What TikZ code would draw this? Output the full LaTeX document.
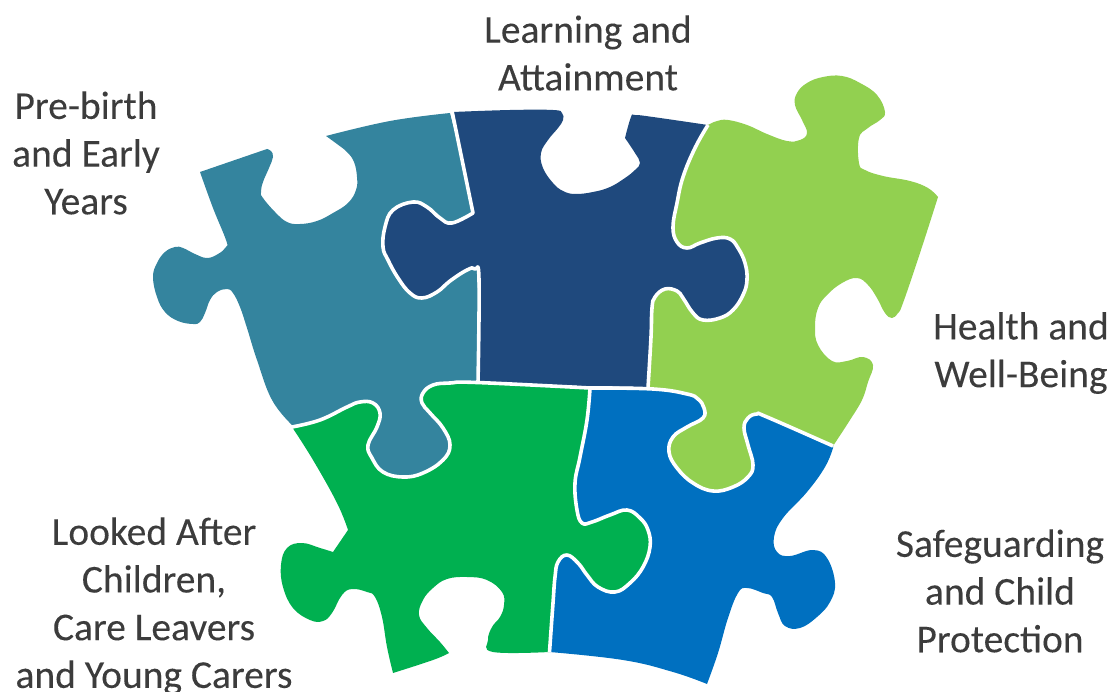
\documentclass[tikz,border=0pt]{standalone}
\usepackage{fontspec}
\setmainfont{Carlito}
\definecolor{teal}{HTML}{34849E}
\definecolor{navy}{HTML}{1F497D}
\definecolor{lime}{HTML}{92D050}
\definecolor{grass}{HTML}{00B050}
\definecolor{azure}{HTML}{0070C0}
\definecolor{ink}{HTML}{3C3C3C}
\newfontfamily\lblfont[FakeBold=0.12]{Carlito}
\tikzset{
 lbl/.style={font=\lblfont\fontsize{39.5}{47.7}\selectfont,text=ink,align=center,inner sep=0pt},
 seam/.style={draw=white,line width=3.6pt,line join=round},
 s/.style={smooth,tension=.7}
}
\begin{document}
\begin{tikzpicture}[x=1pt,y=-1pt]
\useasboundingbox (0,0) rectangle (1113,692);
% teal
\fill[teal] plot[s] coordinates {(450,113) (390,121) (326,136)}
 -- plot[s] coordinates {(326,136) (337,144) (347,152) (354,162) (357,177) (356,190) (348,203) (333,213) (317,221) (300,224) (287,222) (275,212) (263,198) (261,192) (263,182) (269,168) (273,157) (271,151) (267,149)}
 -- (200,172) -- plot[s] coordinates {(200,172) (213,208) (226,240) (226,247) (218,254) (207,258) (195,254) (183,248) (175,247) (165,252) (157,263) (153,277) (157,297) (165,312) (178,321) (193,324) (200,322) (205,313) (210,300) (217,292) (227,289) (233,293) (240,307) (247,328) (257,360) (272,400) (292,425)}
 -- (370,490) -- (430,490) -- (480,385) -- (476,213) -- cycle;
% navy
\fill[navy] plot[s] coordinates {(453,112) (510,110) (553,110) (562,113) (563,120) (558,128) (548,140) (541,153) (543,168) (553,183) (563,191) (575,194) (593,192) (610,187) (625,178) (635,170) (640,163) (635,153) (625,138)}
 -- plot[s] coordinates {(625,138) (631,117) (635,115) (653,117) (708,125)}
 -- plot[s] coordinates {(708,125) (695,148) (683,177) (677,203) (673,227) (677,242) (687,248) (700,243) (717,238) (730,239) (738,248) (745,263) (747,280) (743,295) (733,310) (720,318) (703,320) (693,313) (683,298) (677,291) (665,289) (655,297) (652,308) (651,337) (648,387)}
 -- (478,384) -- plot[s] coordinates {(478,384) (479,280) (475,269) (467,270) (450,281) (437,292) (422,298) (410,293) (398,278) (388,260) (383,247) (385,227) (393,210) (413,202) (427,207) (440,218) (452,223) (473,213)}
 -- cycle;
% lime
\fill[lime] plot[s] coordinates {(708,125) (717,121) (728,120) (747,125) (767,134) (787,141) (800,140) (807,133) (802,120) (795,105) (797,93) (807,83) (823,77) (842,76) (860,83) (877,95) (885,112) (880,120) (868,128) (859,138) (859,163) (865,170) (883,176) (910,181) (928,188) (938,197)}
 -- plot[s] coordinates {(938,197) (920,253) (903,303) (898,313) (892,318) (885,313) (877,298) (868,285) (857,278) (842,283) (827,295) (818,308) (815,327) (818,345) (832,361) (847,361) (863,357) (873,365) (868,382) (862,400) (850,420) (835,443)}
 -- (833,446) -- plot[s] coordinates {(833,446) (767,417) (757,414) (748,418) (744,428) (748,445) (753,465) (748,477) (733,487) (713,491) (693,483) (677,468) (669,452) (673,437) (687,427) (703,418) (704,408) (698,399) (687,394) (653,389)}
 -- (648,387) -- plot[s] coordinates {(648,387) (651,337) (652,308) (655,297) (665,289) (677,291) (683,298) (693,313) (703,320) (720,318) (733,310) (743,295) (747,280) (745,263) (738,248) (730,239) (717,238) (700,243) (687,248) (677,242) (673,227) (677,203) (683,177) (695,148) (708,125)}
 -- cycle;
% grass
\fill[grass] plot[s] coordinates {(292,427) (320,420) (347,407) (360,402) (373,403) (380,413) (377,427) (368,445) (372,458) (383,472) (403,477) (423,473) (443,460) (450,445) (443,428) (430,413) (422,403) (423,393) (433,385) (450,383) (477,382.5) (590,388)}
 -- plot[s] coordinates {(590,388) (587,420) (580,457) (575,483) (577,510) (582,523) (592,522) (610,515) (627,510) (640,518) (648,530) (650,547) (643,567) (630,583) (615,592) (598,587) (587,575) (578,563) (567,555) (558,562) (555,577) (553,603) (549.5,652)}
 -- plot[s] coordinates {(549.5,652) (493,652) (488,640) (492,627) (500,617) (504,605) (502,592) (487,580) (467,577) (447,579) (433,588) (423,600) (419,615) (427,628) (440,642) (449,653)}
 -- plot[s] coordinates {(449,653) (433,660) (393,673)}
 -- plot[s] coordinates {(393,673) (387,647) (382,617) (375,597) (367,592) (352,589) (342,595) (332,613) (323,621) (310,620) (293,608) (283,587) (281,565) (287,548) (302,543) (320,548) (333,552)}
 -- (348,530) -- plot[s] coordinates {(348,530) (337,503) (313,460) (292,427)}
 -- cycle;
% azure
\fill[azure] plot[s] coordinates {(590,388) (653,389) (687,394) (698,399) (704,408) (703,418) (687,427) (673,437) (669,452) (677,468) (693,483) (713,491) (733,487) (748,477) (753,465) (748,445) (744,428) (748,418) (757,414) (767,417) (833,446)}
 -- plot[s] coordinates {(833,448) (825,467) (807,492) (783,518) (774,537) (777,552) (790,556) (813,550) (827,558) (835,583) (830,602) (817,617) (800,628) (785,626) (778,613) (772,597) (763,593) (747,588) (738,593) (728,618) (718,653) (707,684)}
 -- plot[s] coordinates {(707,684) (673,672) (623,660) (549.5,652)}
 -- plot[s] coordinates {(549.5,652) (553,603) (555,577) (558,562) (567,555) (578,563) (587,575) (598,587) (615,592) (630,583) (643,567) (650,547) (648,530) (640,518) (627,510) (610,515) (592,522) (582,523) (577,510) (575,483) (580,457) (587,420) (590,388)}
 -- cycle;
% white seams between the pieces
\draw[seam] (452,111) -- plot[s] coordinates {(473,213) (452,223) (440,218) (427,207) (413,202) (393,210) (385,227) (383,247) (388,260) (398,278) (410,293) (422,298) (437,292) (450,281) (467,270) (475,269) (479,280) (478,382.5)};
\draw[seam] plot[s] coordinates {(708,125) (695,148) (683,177) (677,203) (673,227) (677,242) (687,248) (700,243) (717,238) (730,239) (738,248) (745,263) (747,280) (743,295) (733,310) (720,318) (703,320) (693,313) (683,298) (677,291) (665,289) (655,297) (652,308) (651,337) (648,388)};
\draw[seam] plot[s] coordinates {(292,427) (320,420) (347,407) (360,402) (373,403) (380,413) (377,427) (368,445) (372,458) (383,472) (403,477) (423,473) (443,460) (450,445) (443,428) (430,413) (422,403) (423,393) (433,385) (450,383) (477,382.5) (590,388)};
\draw[seam] plot[s] coordinates {(590,388) (653,389) (687,394) (698,399) (704,408) (703,418) (687,427) (673,437) (669,452) (677,468) (693,483) (713,491) (733,487) (748,477) (753,465) (748,445) (744,428) (748,418) (757,414) (767,417) (833,446)};
\draw[seam] plot[s] coordinates {(590,388) (587,420) (580,457) (575,483) (577,510) (582,523) (592,522) (610,515) (627,510) (640,518) (648,530) (650,547) (643,567) (630,583) (615,592) (598,587) (587,575) (578,563) (567,555) (558,562) (555,577) (553,603) (549.5,652)};
\node[lbl] (a) at (588,53) {Learning and\\Attainment};
\node[lbl] (b) at (86,153) {Pre-birth\\and Early\\Years};
\node[lbl] (c) at (1021,353) {Health and\\Well-Being};
\node[lbl] (d) at (1000,591) {Safeguarding\\and Child\\Protection};
\node[lbl] (e) at (154,606) {Looked After\\Children,\\Care Leavers\\and Young Carers};
\end{tikzpicture}
\end{document}
